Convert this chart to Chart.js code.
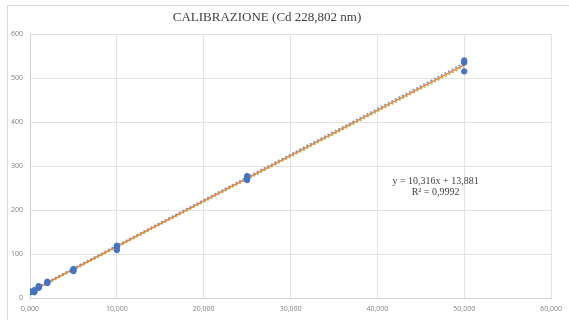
<!DOCTYPE html>
<html><head><meta charset="utf-8">
<script src="https://cdn.jsdelivr.net/npm/chart.js@4"></script>
<style>html,body{margin:0;padding:0;background:#fff}#wrap{width:569px;height:320px;position:relative}</style>
</head><body><div id="wrap"><canvas id="c" width="569" height="320"></canvas></div>
<script>
const concentrations = [0, 0.5, 1, 2, 5, 10, 25, 50];
const replicate1 = [15, 18, 27, 37, 66, 119, 277, 540];
const replicate2 = [14, 15, 25, 35, 63, 116, 272, 535];
const replicate3 = [13, 13, 23, 34, 61, 109, 268, 515];
const trendX = [0, 50];
const trendBlue = [16, 534];
const trendOrange = [13.9, 529.7];
const trendGreen = [12, 526];
const titleText = "CALIBRAZIONE (Cd 228,802 nm)";
const equationLines = ["y = 10,316x + 13,881", "R² = 0,9992"];
const xTicks = [0, 10, 20, 30, 40, 50, 60];
const yTicks = [0, 100, 200, 300, 400, 500, 600];

const pts = (xs, ys) => xs.map((x,i)=>({x:x,y:ys[i]}));
const blue='#4472C4';
const datasets=[
  {type:'line',data:pts(trendX,trendGreen),borderColor:'#A9C464',borderWidth:1.5,borderDash:[2,2],pointRadius:0,fill:false,order:4},
  {type:'line',data:pts(trendX,trendBlue),borderColor:'#6E96DA',borderWidth:1.5,borderDash:[2,2],pointRadius:0,fill:false,order:3},
  {type:'line',data:pts(trendX,trendOrange),borderColor:'#ED7D31',borderWidth:1.5,pointRadius:0,fill:false,order:2}
];
[replicate1,replicate2,replicate3].forEach(r=>{
  datasets.push({type:'scatter',data:pts(concentrations,r),backgroundColor:blue,borderColor:blue,pointRadius:2.7,order:1});
});

const deco={id:'deco',
  beforeDraw(chart){
    const c=chart.ctx;
    c.save();c.fillStyle='#fff';c.fillRect(0,0,chart.width,chart.height);
    c.strokeStyle='#d9d9d9';c.lineWidth=1;c.strokeRect(7.5,5.5,600,400);
    c.restore();
  },
  afterDraw(chart){
    const c=chart.ctx;
    c.save();
    c.fillStyle='#404040';c.textAlign='center';c.textBaseline='middle';
    c.font='13px "Liberation Serif"';
    c.fillText(titleText,267,18);
    const xs=chart.scales.x, ys=chart.scales.y;
    const cx=xs.getPixelForValue(46.7);
    const cy=ys.getPixelForValue(266);
    c.font='10px "Liberation Serif"';
    c.fillText(equationLines[0],cx,cy);
    c.fillText(equationLines[1],cx,cy+11);
    c.restore();
  }
};

new Chart(document.getElementById('c'),{
  data:{datasets:datasets},
  options:{
    responsive:false,animation:false,
    layout:{padding:{left:0,right:13,top:34,bottom:0}},
    plugins:{legend:{display:false},tooltip:{enabled:false}},
    scales:{
      x:{type:'linear',min:0,max:60,
        afterFit(s){s.height=22;},
        afterBuildTicks(s){s.ticks=xTicks.map(v=>({value:v}));},
        grid:{color:'#e3e3e3',drawTicks:false},border:{color:'#d0d0d0'},
        ticks:{padding:7,color:'#7f7f7f',font:{family:'"Open Sans"',size:7},maxRotation:0,
          callback:v=>v.toFixed(3).replace('.',',')}},
      y:{type:'linear',min:0,max:600,
        afterFit(s){s.width=30;},
        afterBuildTicks(s){s.ticks=yTicks.map(v=>({value:v}));},
        grid:{color:'#e3e3e3',drawTicks:false},border:{color:'#d0d0d0'},
        ticks:{padding:7,color:'#7f7f7f',font:{family:'"Open Sans"',size:7},callback:v=>String(v)}}
    }
  },
  plugins:[deco]
});
</script></body></html>
